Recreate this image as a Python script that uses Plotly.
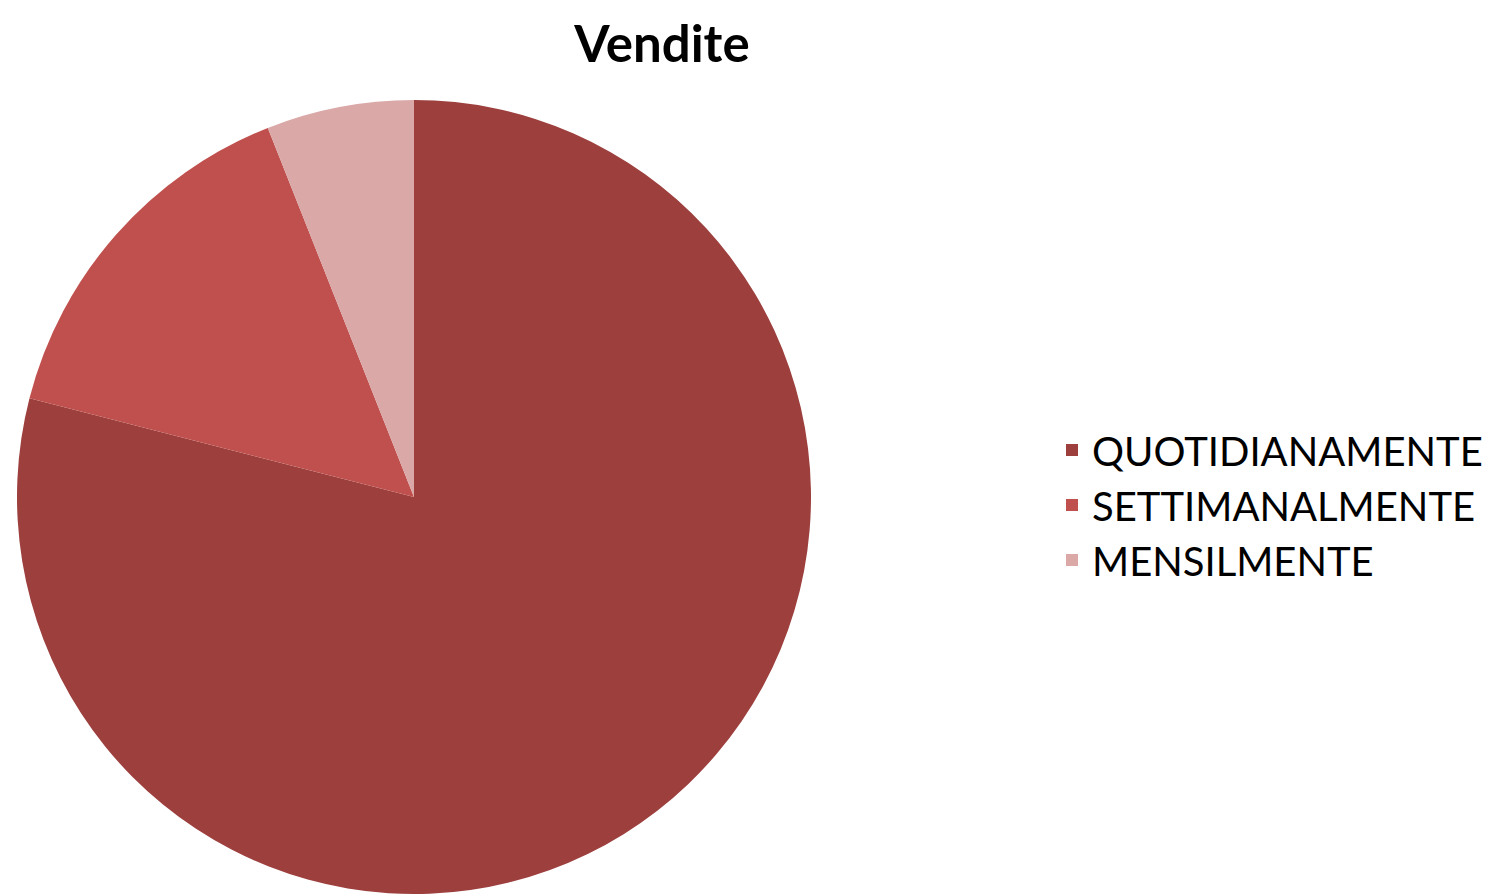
import plotly.graph_objects as go

categories = ["QUOTIDIANAMENTE", "SETTIMANALMENTE", "MENSILMENTE"]
values = [79, 15, 6]
colors = ["#9C3F3D", "#C0504D", "#D9A8A7"]

W, H = 1501, 894
cx, cy, r = 406, 489, 397

fig = go.Figure(go.Pie(
    labels=categories,
    values=values,
    sort=False,
    direction="clockwise",
    rotation=0,
    textinfo="none",
    hoverinfo="label+percent",
    marker=dict(colors=colors, line=dict(width=0)),
    domain=dict(x=[(cx - r) / W, (cx + r) / W], y=[1 - (cy + r) / H, 1 - (cy - r) / H]),
))

fig.update_layout(
    width=W, height=H,
    margin=dict(l=0, r=0, t=0, b=0),
    paper_bgcolor="white",
    plot_bgcolor="white",
    title=dict(text="<b>Vendite</b>", x=654 / W, xanchor="center", y=1 - 36 / H, yanchor="middle",
               font=dict(family="Lato", size=51, color="black")),
    legend=dict(x=1044 / W, xanchor="left", y=1 - 497 / H, yanchor="middle",
                font=dict(family="Lato", size=40, color="black"),
                itemsizing="constant", tracegroupgap=0, bgcolor="rgba(0,0,0,0)"),
    showlegend=True,
)

fig.write_html("out.html")
